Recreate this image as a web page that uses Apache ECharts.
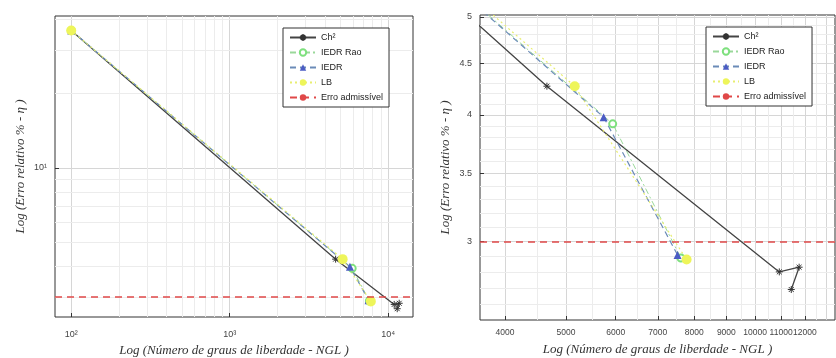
<!DOCTYPE html>
<html>
<head>
<meta charset="utf-8">
<script src="https://cdn.jsdelivr.net/npm/echarts@6/dist/echarts.min.js"></script>
<style>
  html, body { margin: 0; padding: 0; background: #fff; }
  #chart { width: 836px; height: 358px; }
</style>
</head>
<body>
<div id="chart"></div>
<script>
// values (NGL vs relative error %)
const nglCh2 = [100, 4664, 10926, 11750, 11416];
const errCh2 = [36, 4.27, 2.80, 2.83, 2.69];
const nglRao = [100, 5935, 7620];
const errRao = [36, 3.92, 2.89];
const nglIedr = [100, 5741, 7527];
const errIedr = [36, 3.98, 2.91];
const nglLb = [100, 5164, 7780];
const errLb = [36, 4.27, 2.88];
const errAdmissivel = 3;

const leftXTicks = [100, 1000, 10000];
const leftXLabels = ['10²', '10³', '10⁴'];
const leftYTicks = [10];
const leftYLabels = ['10¹'];
const leftXMinor = [200, 300, 400, 500, 600, 700, 800, 900, 2000, 3000, 4000, 5000, 6000, 7000, 8000, 9000];
const leftYMinor = [3, 4, 5, 6, 7, 8, 9, 20, 30, 40];

const rightXTicks = [4000, 5000, 6000, 7000, 8000, 9000, 10000, 11000, 12000, 13000];
const rightYTicks = [3, 3.5, 4, 4.5, 5];
const rightXMinor = [4500, 5500, 6500, 7500, 8500, 9500, 10500, 11500, 12500];
const rightYMinor = [2.6, 2.7, 2.8, 2.9, 3.1, 3.2, 3.3, 3.4, 3.6, 3.7, 3.8, 3.9, 4.1, 4.2, 4.3, 4.4, 4.6, 4.7, 4.8, 4.9];

const names = ['Ch²', 'IEDR Rao', 'IEDR', 'LB', 'Erro admissível'];

const starPath = 'path://M5,0L5,10M0,5L10,5M1.5,1.5L8.5,8.5M8.5,1.5L1.5,8.5';

const zip = (xs, ys) => xs.map((x, i) => [x, ys[i]]);

function panelSeries(idx) {
  return [
    {
      name: 'Ch²', type: 'line', xAxisIndex: idx, yAxisIndex: idx,
      data: zip(nglCh2, errCh2),
      symbol: starPath, symbolSize: 7,
      itemStyle: { color: '#333', borderColor: '#333', borderWidth: 1 },
      lineStyle: { color: '#444', width: 1.3 }
    },
    {
      name: 'IEDR Rao', type: 'line', xAxisIndex: idx, yAxisIndex: idx,
      data: zip(nglRao, errRao),
      symbol: 'emptyCircle', symbolSize: 7,
      itemStyle: { color: '#7ee07e', borderColor: '#7ee07e', borderWidth: 1.5 },
      lineStyle: { color: '#9ad89a', width: 1, type: [6, 3, 2, 3] }
    },
    {
      name: 'IEDR', type: 'line', xAxisIndex: idx, yAxisIndex: idx,
      data: zip(nglIedr, errIedr),
      symbol: 'triangle', symbolSize: 8,
      itemStyle: { color: '#4b5cc4' },
      lineStyle: { color: '#6b8bb8', width: 1.2, type: [6, 4] }
    },
    {
      name: 'LB', type: 'line', xAxisIndex: idx, yAxisIndex: idx,
      data: zip(nglLb, errLb),
      symbol: 'circle', symbolSize: 10,
      itemStyle: { color: '#eef55a' },
      lineStyle: { color: '#e8ee70', width: 1.2, type: [2, 3] }
    },
    {
      name: 'Erro admissível', type: 'line', xAxisIndex: idx, yAxisIndex: idx,
      data: [], symbol: 'none',
      lineStyle: { color: '#e04848', width: 1.5, type: [7, 5] },
      itemStyle: { color: '#e04848' },
      markLine: {
        silent: true, symbol: 'none', label: { show: false },
        lineStyle: { color: '#e04848', width: 1.5, type: [7, 5] },
        data: [{ yAxis: errAdmissivel }]
      }
    }
  ];
}

function minorGrid(idx, xs, ys) {
  return {
    type: 'line', xAxisIndex: idx, yAxisIndex: idx, data: [], silent: true,
    z: 0,
    markLine: {
      silent: true, symbol: 'none', label: { show: false }, z: 1,
      lineStyle: { color: '#ececec', width: 1, type: 'solid' },
      data: xs.map(v => ({ xAxis: v })).concat(ys.map(v => ({ yAxis: v })))
    }
  };
}

const tickFont = { color: '#444', fontSize: 9, fontFamily: 'Liberation Sans' };
const nameFont = { color: '#333', fontSize: 13, fontStyle: 'italic', fontFamily: 'Liberation Serif' };

function legendBox(left, top) {
  return {
    data: names, orient: 'vertical', left: left, top: top, z: 20,
    width: 120, padding: [5, 6, 5, 6],
    backgroundColor: '#fff', borderColor: '#333', borderWidth: 1,
    itemWidth: 26, itemHeight: 8, itemGap: 6,
    textStyle: { fontSize: 9, color: '#222', fontFamily: 'Liberation Sans' },
    selectedMode: false
  };
}

const chart = echarts.init(document.getElementById('chart'));
chart.setOption({
  backgroundColor: '#fff',
  animation: false,
  grid: [
    { left: 55, top: 16, width: 358, height: 301, show: true, borderColor: '#333', borderWidth: 1, backgroundColor: 'transparent', outerBoundsMode: 'none', containLabel: false },
    { left: 480, top: 15, width: 355, height: 305, show: true, borderColor: '#333', borderWidth: 1, backgroundColor: 'transparent', outerBoundsMode: 'none', containLabel: false }
  ],
  legend: [legendBox(283, 28), legendBox(706, 27)],
  xAxis: [
    {
      type: 'log', logBase: 10, gridIndex: 0, min: 79, max: 14360,
      name: 'Log (Número de graus de liberdade - NGL )', nameLocation: 'middle', nameGap: 26,
      nameTextStyle: nameFont,
      axisLine: { show: false },
      axisTick: { inside: true, length: 4, customValues: leftXTicks, lineStyle: { color: '#333' } },
      axisLabel: {
        customValues: leftXTicks, ...tickFont, margin: 13,
        formatter: v => leftXLabels[leftXTicks.indexOf(Math.round(v))] || ''
      },
      splitLine: { show: true, lineStyle: { color: '#d6d6d6' } }
    },
    {
      type: 'log', logBase: 10, gridIndex: 1, min: 3650, max: 13400,
      name: 'Log (Número de graus de liberdade - NGL )', nameLocation: 'middle', nameGap: 23,
      nameTextStyle: nameFont,
      axisLine: { show: false },
      axisTick: { inside: true, length: 4, customValues: rightXTicks, lineStyle: { color: '#333' } },
      axisLabel: {
        customValues: rightXTicks, ...tickFont, fontSize: 8.5, margin: 8,
        hideOverlap: false, interval: 0,
        formatter: v => String(Math.round(v))
      },
      splitLine: { show: true, lineStyle: { color: '#d6d6d6' } }
    }
  ],
  yAxis: [
    {
      type: 'log', logBase: 10, gridIndex: 0, min: 2.49, max: 41.2,
      name: 'Log (Erro relativo % - η )', nameLocation: 'middle', nameGap: 28, nameRotate: 90,
      nameTextStyle: nameFont,
      axisLine: { show: false },
      axisTick: { inside: true, length: 4, customValues: leftYTicks, lineStyle: { color: '#333' } },
      axisLabel: {
        customValues: leftYTicks, ...tickFont, margin: 8,
        formatter: v => leftYLabels[leftYTicks.indexOf(Math.round(v))] || ''
      },
      splitLine: { show: true, lineStyle: { color: '#d6d6d6' } }
    },
    {
      type: 'log', logBase: 10, gridIndex: 1, min: 2.51, max: 5.02,
      name: 'Log (Erro relativo % - η )', nameLocation: 'middle', nameGap: 28, nameRotate: 90,
      nameTextStyle: nameFont,
      axisLine: { show: false },
      axisTick: { inside: true, length: 4, customValues: rightYTicks, lineStyle: { color: '#333' } },
      axisLabel: { customValues: rightYTicks, ...tickFont, margin: 8, formatter: v => String(v) },
      splitLine: { show: true, lineStyle: { color: '#d6d6d6' } }
    }
  ],
  series: [
    minorGrid(0, leftXMinor, leftYMinor),
    minorGrid(1, rightXMinor, rightYMinor),
    ...panelSeries(0),
    ...panelSeries(1)
  ]
});
</script>
</body>
</html>
